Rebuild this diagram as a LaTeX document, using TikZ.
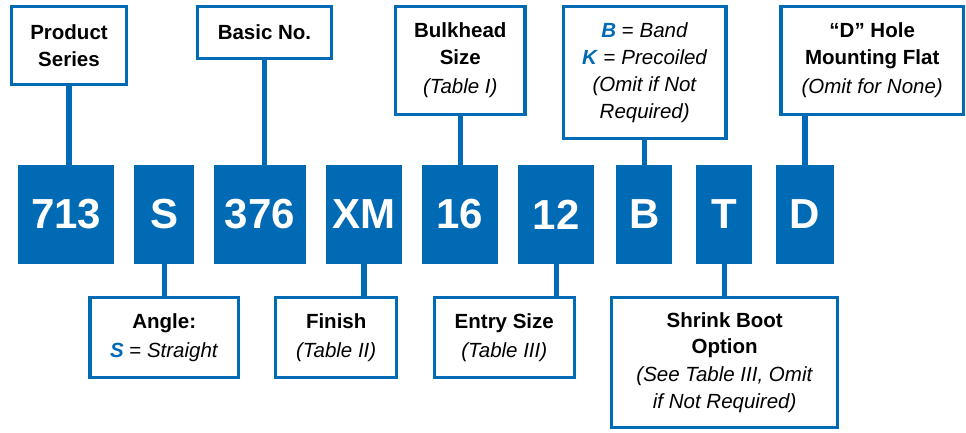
\documentclass[tikz,border=0pt]{standalone}
\usepackage{fontspec}
\setmainfont{Liberation Sans}
\definecolor{pblue}{RGB}{0,106,180}
\tikzset{
  lbl/.style={draw=pblue, line width=3.3pt, fill=white, inner sep=0pt, align=center,
    font=\fontsize{20.5}{26.5}\selectfont, text=black},
  code/.style={fill=pblue, inner sep=0pt, outer sep=0pt, minimum height=99pt,
    text=white, font=\fontsize{42}{50}\selectfont\bfseries},
  stem/.style={draw=pblue, line width=5.3pt},
}
\newcommand{\bk}[1]{\textcolor{pblue}{\textbf{\textit{#1}}}}
\begin{document}
\begin{tikzpicture}[x=1pt,y=-1pt]
\useasboundingbox (0,0) rectangle (966,432);
% code boxes
\node[code, minimum width=96pt]   (c1) at (66.3,214.5) {713};
\node[code, minimum width=60pt]   (c2) at (164.3,214.5) {S};
\node[code, minimum width=92pt]   (c3) at (260,214.5) {376};
\node[code, minimum width=76pt]   (c4) at (364,214.5) {XM};
\node[code, minimum width=75.4pt] (c5) at (460,214.5) {16};
\node[code, minimum width=76pt]   (c6) at (556.3,214.5) {12};
\node[code, minimum width=56.3pt] (c7) at (644.2,214.5) {B};
\node[code, minimum width=56.3pt] (c8) at (724.2,214.5) {T};
\node[code, minimum width=58pt]   (c9) at (805,214.5) {D};
% top labels
\node[lbl, minimum width=114.7pt, minimum height=77.7pt] (ps) at (69,45.5)
  {\textbf{Product}\\\textbf{Series}};
\node[lbl, minimum width=133.7pt, minimum height=51.7pt] (bn) at (264.5,32.5)
  {\textbf{Basic No.}};
\node[lbl, minimum width=129.4pt, minimum height=107.7pt] (bh) at (460.3,60.5)
  {\textbf{Bulkhead}\\\textbf{Size}\\[3pt]\textit{(Table I)}};
\node[lbl, minimum width=162.7pt, minimum height=131.7pt] (bb) at (644.7,72.5)
  {\bk{B} = \textit{Band}\\\bk{K} = \textit{Precoiled}\\[1pt]\textit{(Omit if Not}\\\textit{Required)}};
\node[lbl, minimum width=182.4pt, minimum height=107.7pt] (dh) at (872.2,60.5)
  {\textbf{“D” Hole}\\\textbf{Mounting Flat}\\[3pt]\textit{(Omit for None)}};
% bottom labels
\node[lbl, minimum width=148.4pt, minimum height=80.3pt] (an) at (164.2,337.5)
  {\textbf{Angle:}\\[3pt]\bk{S} = \textit{Straight}};
\node[lbl, minimum width=121pt, minimum height=80.3pt] (fi) at (336.2,337.5)
  {\textbf{Finish}\\[3pt]\textit{(Table II)}};
\node[lbl, minimum width=140pt, minimum height=80.3pt] (en) at (504.3,337.5)
  {\textbf{Entry Size}\\[3pt]\textit{(Table III)}};
\node[lbl, minimum width=226pt, minimum height=130pt] (sb) at (724.7,362.3)
  {\textbf{Shrink Boot}\\\textbf{Option}\\[1.5pt]\textit{(See Table III, Omit}\\\textit{if Not Required)}};
% stems
\draw[stem] (ps.south) -- (ps.south |- c1.north);
\draw[stem] (bn.south) -- (bn.south |- c3.north);
\draw[stem] (bh.south) -- (bh.south |- c5.north);
\draw[stem] (c7.north) -- (c7.north |- bb.south);
\draw[stem] (c9.north) -- (c9.north |- dh.south);
\draw[stem] (c2.south) -- (c2.south |- an.north);
\draw[stem] (c4.south) -- (c4.south |- fi.north);
\draw[stem] (c6.south) -- (c6.south |- en.north);
\draw[stem] (c8.south) -- (c8.south |- sb.north);
\end{tikzpicture}
\end{document}
